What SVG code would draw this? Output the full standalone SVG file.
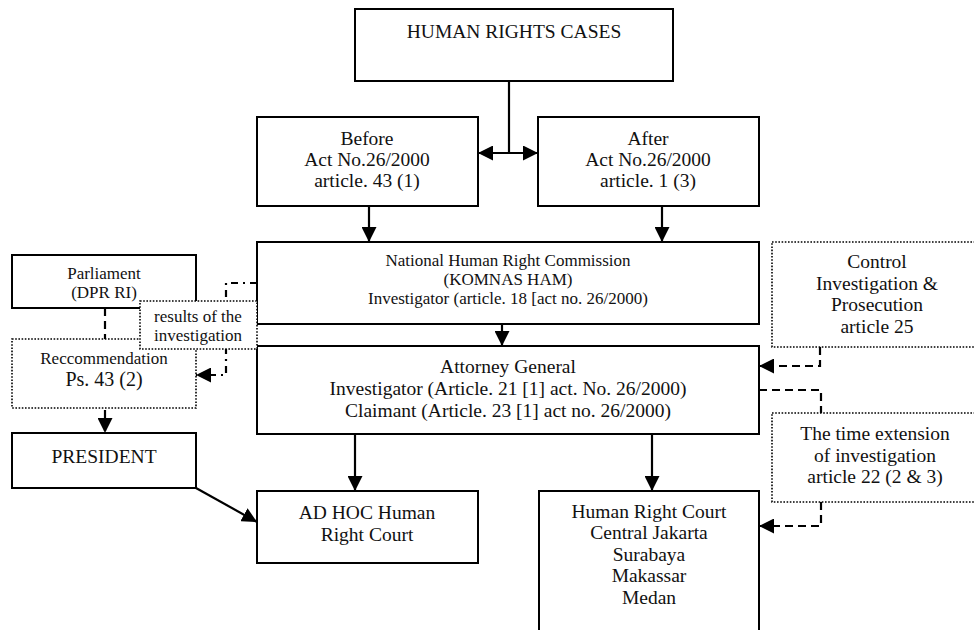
<svg xmlns="http://www.w3.org/2000/svg" width="974" height="630" viewBox="0 0 974 630">
<style>
.box{fill:#fff;stroke:#000;stroke-width:2}
.dot{fill:#fff;stroke:#000;stroke-width:1.6;stroke-dasharray:1.6 1.6}
text{font-family:"Liberation Serif","Times New Roman",serif;font-size:19.5px;fill:#111;text-anchor:middle}
.sm{font-size:17px}
.ln{fill:none;stroke:#000;stroke-width:2.2}
.dash{fill:none;stroke:#000;stroke-width:2.2;stroke-dasharray:8 5}
.dd{fill:none;stroke:#000;stroke-width:2.2;stroke-dasharray:7 5 2 5}
</style>
<defs>
<marker id="ah" viewBox="0 0 10 10" refX="10" refY="5" markerWidth="15" markerHeight="15" markerUnits="userSpaceOnUse" orient="auto-start-reverse">
<path d="M0,0 L10,5 L0,10 z" fill="#000"/>
</marker>
</defs>
<g id="connectors">
<path class="ln" d="M509,81 V153"/>
<path class="ln" d="M478,153 H538" marker-start="url(#ah)" marker-end="url(#ah)"/>
<path class="ln" d="M369,206 V242" marker-end="url(#ah)"/>
<path class="ln" d="M662,206 V242" marker-end="url(#ah)"/>
<path class="ln" d="M502,324 V346" marker-end="url(#ah)"/>
<path class="ln" d="M355,434 V491" marker-end="url(#ah)"/>
<path class="ln" d="M652,434 V491" marker-end="url(#ah)"/>
<path class="ln" d="M196,488 L257,522" marker-end="url(#ah)"/>
<path class="dash" d="M105,308 V339"/>
<path class="dash" d="M105,410 V433" marker-end="url(#ah)"/>
<path class="dd" d="M257,283 H226 V375 H196" marker-end="url(#ah)"/>
<path class="dash" d="M820,347 V366 H759" marker-end="url(#ah)"/>
<path class="dash" d="M759,390 H821 V413"/>
<path class="dash" d="M821,502 V526 H759" marker-end="url(#ah)"/>
</g>
<g id="hrc">
<rect class="box" x="355" y="9" width="318" height="72"/>
<text x="514" y="38">HUMAN RIGHTS CASES</text>
</g>
<g id="before">
<rect class="box" x="257" y="117" width="221" height="89"/>
<text x="367" y="145">Before</text>
<text x="367" y="166">Act No.26/2000</text>
<text x="367" y="187">article. 43 (1)</text>
</g>
<g id="after">
<rect class="box" x="538" y="117" width="221" height="89"/>
<text x="648" y="145">After</text>
<text x="648" y="166">Act No.26/2000</text>
<text x="648" y="187">article. 1 (3)</text>
</g>
<g id="komnas">
<rect class="box" x="257" y="242" width="502" height="82"/>
<text class="sm" x="508" y="266">National Human Right Commission</text>
<text class="sm" x="508" y="285">(KOMNAS HAM)</text>
<text class="sm" x="508" y="304">Investigator (article. 18 [act no. 26/2000)</text>
</g>
<g id="attorney">
<rect class="box" x="257" y="346" width="502" height="88"/>
<text x="508" y="373">Attorney General</text>
<text x="508" y="395">Investigator (Article. 21 [1] act. No. 26/2000)</text>
<text x="508" y="417">Claimant (Article. 23 [1] act no. 26/2000)</text>
</g>
<g id="parliament">
<rect class="box" x="12" y="255" width="184" height="53"/>
<text class="sm" x="104" y="279">Parliament</text>
<text class="sm" x="104" y="298">(DPR RI)</text>
</g>
<g id="recommendation">
<rect class="dot" x="12" y="339" width="184" height="69"/>
<text class="sm" x="104" y="364">Reccommendation</text>
<text x="104" y="386" style="font-size:20px">Ps. 43 (2)</text>
</g>
<g id="president">
<rect class="box" x="12" y="433" width="184" height="55"/>
<text x="104" y="463">PRESIDENT</text>
</g>
<g id="adhoc">
<rect class="box" x="257" y="491" width="221" height="72"/>
<text x="367" y="519">AD HOC Human</text>
<text x="367" y="541">Right Court</text>
</g>
<g id="hrcourt">
<rect class="box" x="539" y="491" width="220" height="150"/>
<text x="649" y="518">Human Right Court</text>
<text x="649" y="539">Central Jakarta</text>
<text x="649" y="561">Surabaya</text>
<text x="649" y="582">Makassar</text>
<text x="649" y="604">Medan</text>
</g>
<g id="control">
<rect class="dot" x="772" y="242" width="210" height="105"/>
<text x="877" y="268">Control</text>
<text x="877" y="290">Investigation &amp;</text>
<text x="877" y="311">Prosecution</text>
<text x="877" y="333">article 25</text>
</g>
<g id="timeext">
<rect class="dot" x="772" y="413" width="210" height="89"/>
<text x="875" y="440">The time extension</text>
<text x="875" y="462">of investigation</text>
<text x="875" y="483">article 22 (2 &amp; 3)</text>
</g>
<g id="results">
<rect class="dot" x="140" y="301" width="117" height="48"/>
<text class="sm" x="198" y="322">results of the</text>
<text class="sm" x="198" y="341">investigation</text>
</g>
</svg>
